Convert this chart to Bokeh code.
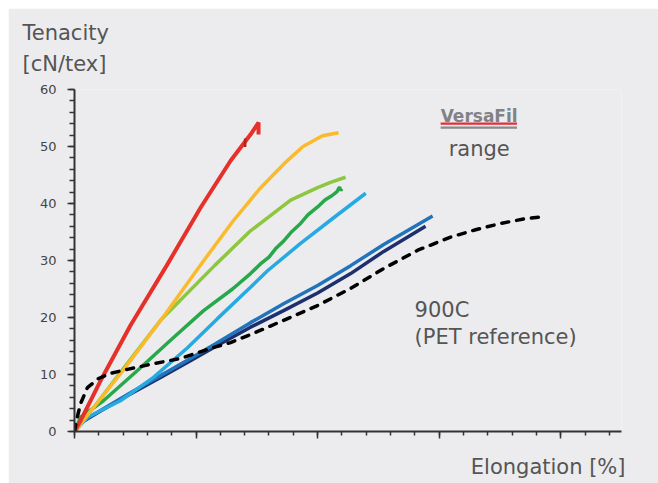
from bokeh.plotting import figure
from bokeh.models import Range1d, FixedTicker, Label, Title
from bokeh.embed import file_html
from bokeh.resources import INLINE

# ---- data (elongation %, tenacity cN/tex) ----
red_x = [0, 0.25, 1.07, 2.30, 3.79, 5.19, 6.42, 7.24, 7.57, 7.57]
red_y = [0, 1.9, 8.9, 18.6, 29.1, 39.3, 47.5, 52.1, 54.2, 52.1]
red_tail_x = [7.02, 7.02]
red_tail_y = [51.4, 49.9]

yellow_x = [0, 0.8, 2.0, 3.7, 5.2, 6.5, 7.6, 8.6, 9.4, 10.2, 10.86]
yellow_y = [0, 4.3, 10.7, 20.4, 29.3, 36.8, 42.5, 46.9, 50.0, 51.9, 52.4]

lgreen_x = [0, 0.86, 1.89, 3.54, 5.76, 7.24, 8.89, 10.0, 10.53, 11.15]
lgreen_y = [0, 4.6, 10.4, 19.5, 29.1, 35.2, 40.6, 42.8, 43.7, 44.6]

green_x = [0, 0.25, 1.19, 2.59, 3.95, 5.31, 6.5, 7.24, 7.7, 8.0, 8.3, 8.6, 8.9, 9.3,
           9.6, 10.0, 10.3, 10.6, 10.8, 10.9, 10.95, 11.0]
green_y = [0, 2.5, 5.4, 10.7, 16.0, 21.2, 25.0, 27.7, 29.6, 30.6, 32.2, 33.4, 34.9, 36.5,
           38.0, 39.4, 40.6, 41.4, 42.1, 42.9, 42.3, 42.6]

lblue_x = [0, 0.53, 1.89, 3.25, 4.65, 5.88, 7.24, 7.94, 9.30, 10.66, 11.98]
lblue_y = [0, 2.5, 5.4, 9.5, 14.7, 19.8, 25.3, 28.2, 33.0, 37.5, 41.8]

blue_x = [0, 0.25, 1.07, 2.30, 3.54, 4.77, 5.80, 7.24, 8.60, 10.0, 11.36, 12.72, 14.73]
blue_y = [0, 1.6, 3.7, 6.8, 9.8, 12.8, 15.4, 19.1, 22.4, 25.6, 29.1, 32.8, 37.8]

navy_x = [0, 0.25, 1.07, 2.30, 3.54, 4.77, 5.80, 7.24, 8.60, 10.0, 11.36, 12.72, 14.44]
navy_y = [0, 1.5, 3.6, 6.6, 9.5, 12.4, 14.9, 18.3, 21.2, 24.3, 27.7, 31.6, 36.0]

pet_x = [0, 0.08, 0.25, 0.53, 0.99, 1.48, 2.18, 3.25, 4.36, 5.60, 6.42, 7.24, 8.60,
         10.0, 11.36, 12.72, 14.12, 15.47, 16.5, 17.53, 18.5, 19.3]
pet_y = [0, 1.9, 4.9, 7.7, 9.3, 10.2, 10.9, 11.9, 12.8, 14.6, 15.6, 17.0, 19.5,
         22.1, 25.1, 28.6, 31.8, 34.1, 35.4, 36.5, 37.3, 37.7]

x_major_ticks = [0, 5, 10, 15, 20]
x_minor_ticks = list(range(0, 23))
y_major_ticks = [0, 10, 20, 30, 40, 50, 60]
y_minor_ticks = list(range(0, 61, 2))

BG = "#ececee"
TXT = "#555555"
FONT = "DejaVu Sans"

p = figure(width=650, height=475, output_backend="svg", toolbar_location=None,
           x_range=Range1d(0, 22.5), y_range=Range1d(0, 60),
           min_border_left=66, min_border_right=37, min_border_top=81, min_border_bottom=52)
p.margin = (8, 0, 0, 8)
p.background_fill_color = BG
p.border_fill_color = BG
p.outline_line_color = None
p.xgrid.visible = False
p.ygrid.visible = False

for ax in (p.xaxis[0], p.yaxis[0]):
    ax.axis_line_color = "#333333"
    ax.axis_line_width = 2
    ax.major_tick_line_color = "#333333"
    ax.minor_tick_line_color = "#333333"
    ax.major_tick_line_width = 1.5
    ax.minor_tick_line_width = 1.5
    ax.major_tick_in = 0
    ax.minor_tick_in = 0
    ax.major_tick_out = 7

p.xaxis.ticker = FixedTicker(ticks=x_major_ticks, minor_ticks=x_minor_ticks)
p.xaxis.minor_tick_out = 4
p.xaxis.major_label_overrides = {t: "" for t in x_major_ticks}

p.yaxis.ticker = FixedTicker(ticks=y_major_ticks, minor_ticks=y_minor_ticks)
p.yaxis.minor_tick_out = 5
p.yaxis.major_label_text_font = FONT
p.yaxis.major_label_text_font_size = "13px"
p.yaxis.major_label_text_color = "#444444"
p.yaxis.major_label_standoff = 11

# curves
p.line(navy_x, navy_y, line_color="#1e2f6e", line_width=3.5)
p.line(blue_x, blue_y, line_color="#2173bb", line_width=3.5)
p.line(lblue_x, lblue_y, line_color="#27aae1", line_width=3.5)
p.line(green_x, green_y, line_color="#27a84a", line_width=3.5)
p.line(lgreen_x, lgreen_y, line_color="#8dc63f", line_width=3.5)
p.line(yellow_x, yellow_y, line_color="#fbb92c", line_width=3.5)
p.line(red_x, red_y, line_color="#e6302a", line_width=4)
p.line(red_tail_x, red_tail_y, line_color="#b8201c", line_width=2.5)
p.line(pet_x, pet_y, line_color="#000000", line_width=3.5, line_dash="7 8", line_cap="round")

# VersaFil marker underline
p.segment(x0=[15.06], y0=[54.0], x1=[18.2], y1=[54.0], line_color="#e0303a", line_width=2.2)
p.segment(x0=[15.06], y0=[53.3], x1=[18.2], y1=[53.3], line_color="#8a8a8c", line_width=2.2)

def lab(text, x, y, size="21px", align="left", style="normal", color=TXT):
    p.add_layout(Label(x=x, y=y, text=text, text_font=FONT, text_font_size=size,
                       text_color=color, text_align=align, text_baseline="alphabetic",
                       text_font_style=style))

lab("VersaFil", 15.06, 55.4, size="17px", style="bold", color="#808285")
lab("range", 15.39, 49.6)
lab("900C", 13.99, 21.4)
lab("(PET reference)", 13.99, 16.6)

def spacer(gap):
    return Title(text=" ", text_font_size="1px", standoff=gap, text_color=BG)

# y-axis caption above the frame, x-axis caption below it
p.add_layout(spacer(10), "above")
p.add_layout(Title(text="Tenacity\n[cN/tex]", align="left", offset=-52, vertical_align="bottom",
                   standoff=0, text_font=FONT, text_font_size="21px", text_font_style="normal",
                   text_color=TXT, text_line_height=1.3), "above")
p.add_layout(spacer(13), "below")
p.add_layout(Title(text="Elongation [%]", align="right", offset=-4, vertical_align="top",
                   standoff=0, text_font=FONT, text_font_size="21px", text_font_style="normal",
                   text_color=TXT), "below")

open("out.html", "w").write(file_html(p, INLINE))
